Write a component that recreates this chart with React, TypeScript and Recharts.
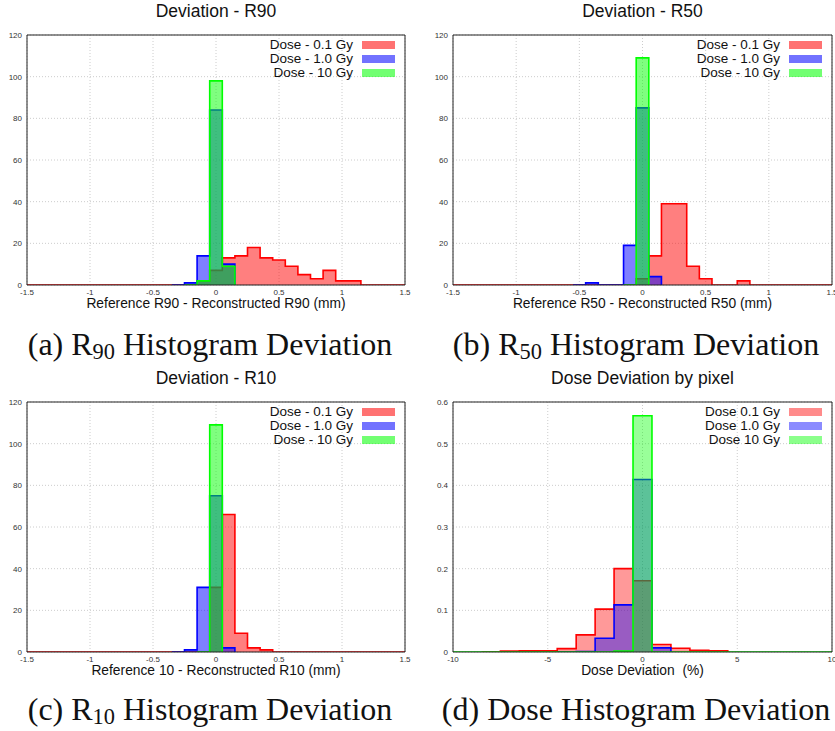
import { AreaChart, Area, XAxis, YAxis, CartesianGrid, ReferenceArea } from "recharts";

const SANS = "'Liberation Sans', Arial, sans-serif";
const SERIF = "'Liberation Serif', 'Times New Roman', serif";

const COLORS = ["#ff0000", "#0000ff", "#00ff00"];
const R_NAMES = ["Dose - 0.1 Gy", "Dose - 1.0 Gy", "Dose - 10 Gy"];
const DOSE_NAMES = ["Dose 0.1 Gy", "Dose 1.0 Gy", "Dose 10 Gy"];

const MM_TICKS = [-1.5, -1, -0.5, 0, 0.5, 1, 1.5];
const COUNT_TICKS = [0, 20, 40, 60, 80, 100, 120];
const PCT_TICKS = [-10, -5, 0, 5, 10];
const FRACTION_TICKS = [0, 0.1, 0.2, 0.3, 0.4, 0.5, 0.6];

// R90 deviation (mm), bin width 0.1
const r90Bins = [-0.2, -0.1, 0, 0.1, 0.2, 0.3, 0.4, 0.5, 0.6, 0.7, 0.8, 0.9, 1.0, 1.1];
const r90Low = [0, 2, 7, 13, 14, 18, 13, 12, 9, 5, 3, 7, 2, 2];
const r90Mid = [1, 14, 84, 10, 0, 0, 0, 0, 0, 0, 0, 0, 0, 0];
const r90High = [0, 2, 98, 9, 0, 0, 0, 0, 0, 0, 0, 0, 0, 0];

// R50 deviation (mm)
const r50Bins = [-0.4, -0.3, -0.2, -0.1, 0, 0.1, 0.2, 0.3, 0.4, 0.5, 0.6, 0.7, 0.8];
const r50Low = [0, 0, 0, 0, 3, 14, 39, 39, 9, 3, 0, 0, 2];
const r50Mid = [1, 0, 0, 19, 85, 4, 0, 0, 0, 0, 0, 0, 0];
const r50High = [0, 0, 0, 0, 109, 0, 0, 0, 0, 0, 0, 0, 0];

// R10 deviation (mm)
const r10Bins = [-0.2, -0.1, 0, 0.1, 0.2, 0.3, 0.4];
const r10Low = [0, 0, 31, 66, 9, 2, 1];
const r10Mid = [1, 31, 75, 2, 0, 0, 0];
const r10High = [0, 0, 109, 0, 0, 0, 0];

// dose deviation by pixel (%), bin width 1
const doseBins = [-7, -6, -5, -4, -3, -2, -1, 0, 1, 2, 3, 4];
const doseLow = [0.002, 0.003, 0.003, 0.008, 0.041, 0.103, 0.2, 0.171, 0.018, 0.009, 0.004, 0.003];
const doseMid = [0, 0, 0, 0, 0.001, 0.033, 0.113, 0.414, 0.01, 0, 0, 0];
const doseHigh = [0, 0, 0, 0, 0, 0, 0.002, 0.567, 0, 0, 0, 0];

type Row = { x: number; [k: string]: number | null };

// rows at bin edges for step areas; a series is null outside its own bins
// unless it is the one drawn along the whole axis
function buildTable(bins: number[], series: number[][], xMin: number, xMax: number, w: number, fullIdx: number) {
  const n = Math.round((xMax - xMin) / w);
  const counts = series.map((vals) => {
    const arr = new Array(n + 2).fill(0);
    bins.forEach((c, i) => {
      arr[Math.round((c - xMin) / w)] = vals[i];
    });
    return arr;
  });
  const spans = counts.map((arr, s) => {
    if (s === fullIdx) return [0, n + 1];
    const nz = arr.map((v, k) => (v > 0 ? k : -1)).filter((k) => k >= 0);
    return [nz[0] - 1, nz[nz.length - 1] + 1];
  });
  const rows: Row[] = [];
  for (let k = 0; k <= n + 1; k++) {
    const row: Row = { x: xMin + (k - 0.5) * w };
    counts.forEach((arr, s) => {
      row["s" + s] = k >= spans[s][0] && k <= spans[s][1] ? arr[k] : null;
    });
    rows.push(row);
  }
  return rows;
}

type PanelProps = {
  left: number;
  top: number;
  width: number;
  marginRight: number;
  yWidth: number;
  title: string;
  xLabel: string;
  names: string[];
  data: Row[];
  xDomain: [number, number];
  xTicks: number[];
  yDomain: [number, number];
  yTicks: number[];
  opacity: number;
};

const HEIGHT = 300;
const MARGIN_TOP = 35;
const MARGIN_LEFT = 5;

function Histogram(p: PanelProps) {
  const plotLeft = MARGIN_LEFT + p.yWidth;
  const plotRight = p.width - p.marginRight;
  const plotBottom = HEIGHT - 15;
  const tick = { fontSize: 8, fill: "#333", fontFamily: SANS };
  return (
    <div style={{ position: "absolute", left: p.left, top: p.top, width: p.width, height: HEIGHT + 20, fontFamily: SANS }}>
      <div style={{ position: "absolute", left: 0, top: 0 }}>
        <AreaChart width={p.width} height={HEIGHT} data={p.data} margin={{ top: MARGIN_TOP, right: p.marginRight, left: MARGIN_LEFT, bottom: 0 }}>
          <CartesianGrid stroke="#cccccc" strokeDasharray="1 2" />
          <XAxis
            type="number"
            dataKey="x"
            domain={p.xDomain}
            ticks={p.xTicks}
            interval={0}
            allowDataOverflow
            height={15}
            tickSize={0}
            tickMargin={4}
            axisLine={false}
            tick={tick}
          />
          <YAxis
            domain={p.yDomain}
            ticks={p.yTicks}
            interval={0}
            allowDataOverflow
            width={p.yWidth}
            tickSize={0}
            tickMargin={5}
            axisLine={false}
            tick={tick}
          />
          {p.names.map((name, i) => (
            <Area
              key={name}
              name={name}
              dataKey={"s" + i}
              type="stepAfter"
              stroke={COLORS[i]}
              strokeWidth={1.6}
              fill={COLORS[i]}
              fillOpacity={p.opacity}
              dot={false}
              activeDot={false}
              isAnimationActive={false}
            />
          ))}
          <ReferenceArea x1={p.xDomain[0]} x2={p.xDomain[1]} y1={p.yDomain[0]} y2={p.yDomain[1]} fill="none" stroke="#222" strokeWidth={1} />
        </AreaChart>
      </div>
      <div style={{ position: "absolute", left: plotLeft - 40, width: plotRight - plotLeft + 80, top: MARGIN_TOP - 34, fontSize: 17.5, lineHeight: "21px", textAlign: "center", color: "#111" }}>
        {p.title}
      </div>
      <div style={{ position: "absolute", left: plotLeft - 40, width: plotRight - plotLeft + 80, top: plotBottom + 11, fontSize: 13.8, lineHeight: "16px", textAlign: "center", color: "#111", whiteSpace: "pre" }}>
        {p.xLabel}
      </div>
      {p.names.map((name, i) => (
        <div key={name} style={{ position: "absolute", top: MARGIN_TOP + 10 + i * 14 - 8, left: 0, width: plotRight, height: 16 }}>
          <span style={{ position: "absolute", right: 52, top: 0, fontSize: 13.5, lineHeight: "16px", color: "#111", whiteSpace: "nowrap" }}>{name}</span>
          <span
            style={{
              position: "absolute",
              right: 10,
              top: 4,
              width: 31,
              height: 6,
              background: COLORS[i],
              opacity: p.opacity + 0.05,
              border: `1px solid ${COLORS[i]}`,
            }}
          />
        </div>
      ))}
    </div>
  );
}

function Caption({ center, baseline, label, sub }: { center: number; baseline: number; label: string; sub: string }) {
  const size = 32;
  return (
    <div style={{ position: "absolute", left: center - 250, width: 500, top: baseline - 27, fontFamily: SERIF, fontSize: size, lineHeight: `${size}px`, textAlign: "center", color: "#111", whiteSpace: "nowrap" }}>
      {label}
      {sub && (
        <>
          R<span style={{ fontSize: "0.7em", position: "relative", top: "0.2em" }}>{sub}</span>
        </>
      )}{" "}
      Histogram Deviation
    </div>
  );
}

export default function App() {
  const tableA = buildTable(r90Bins, [r90Low, r90Mid, r90High], -1.5, 1.5, 0.1, 0);
  const tableB = buildTable(r50Bins, [r50Low, r50Mid, r50High], -1.5, 1.5, 0.1, 0);
  const tableC = buildTable(r10Bins, [r10Low, r10Mid, r10High], -1.5, 1.5, 0.1, 0);
  const tableD = buildTable(doseBins, [doseLow, doseMid, doseHigh], -10, 10, 1, 2);
  return (
    <div style={{ position: "absolute", left: 0, top: 0, width: 835, height: 731, background: "#fff", overflow: "hidden" }}>
      <Histogram left={0} top={0} width={415} marginRight={10} yWidth={22} title="Deviation - R90" xLabel="Reference R90 - Reconstructed R90 (mm)" names={R_NAMES} data={tableA} xDomain={[-1.5, 1.5]} xTicks={MM_TICKS} yDomain={[0, 120]} yTicks={COUNT_TICKS} opacity={0.5} />
      <Histogram left={415} top={0} width={420} marginRight={3} yWidth={33} title="Deviation - R50" xLabel="Reference R50 - Reconstructed R50 (mm)" names={R_NAMES} data={tableB} xDomain={[-1.5, 1.5]} xTicks={MM_TICKS} yDomain={[0, 120]} yTicks={COUNT_TICKS} opacity={0.5} />
      <Histogram left={0} top={367} width={415} marginRight={10} yWidth={22} title="Deviation - R10" xLabel="Reference 10 - Reconstructed R10 (mm)" names={R_NAMES} data={tableC} xDomain={[-1.5, 1.5]} xTicks={MM_TICKS} yDomain={[0, 120]} yTicks={COUNT_TICKS} opacity={0.5} />
      <Histogram left={415} top={367} width={420} marginRight={3} yWidth={33} title="Dose Deviation by pixel" xLabel="Dose Deviation  (%)" names={DOSE_NAMES} data={tableD} xDomain={[-10, 10]} xTicks={PCT_TICKS} yDomain={[0, 0.6]} yTicks={FRACTION_TICKS} opacity={0.4} />
      <Caption center={210} baseline={355} label="(a) " sub="90" />
      <Caption center={636} baseline={355} label="(b) " sub="50" />
      <Caption center={210} baseline={720} label="(c) " sub="10" />
      <Caption center={636} baseline={720} label="(d) Dose" sub="" />
    </div>
  );
}
